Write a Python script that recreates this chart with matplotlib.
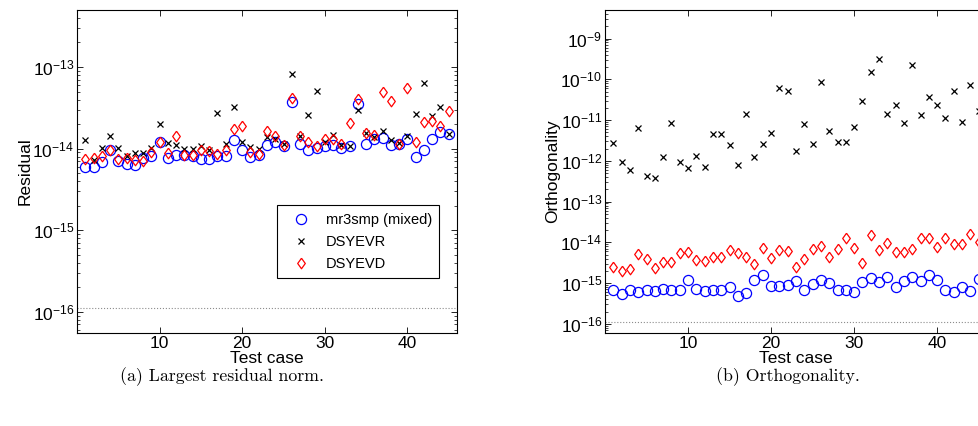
import numpy as np
import matplotlib
matplotlib.use("Agg")
import matplotlib.pyplot as plt
from matplotlib.ticker import LogLocator, FixedLocator, NullFormatter

plt.rcParams['font.family'] = ['Liberation Sans', 'DejaVu Sans']
plt.rcParams['mathtext.default'] = 'regular'

# test cases 1..45
cases = np.arange(1, 46)
eps = 1.11e-16

# (a) largest residual norm
res_mr3 = [5.9e-15, 5.9e-15, 6.8e-15, 9.7e-15, 7.0e-15, 6.5e-15, 6.3e-15, 7.7e-15, 8.1e-15, 1.2e-14,
           7.7e-15, 8.3e-15, 8.3e-15, 8.1e-15, 7.5e-15, 7.5e-15, 8.1e-15, 8.1e-15, 1.26e-14, 9.5e-15,
           7.9e-15, 8.3e-15, 1.1e-14, 1.19e-14, 1.09e-14, 3.7e-14, 1.14e-14, 9.7e-15, 1.02e-14, 1.09e-14,
           1.12e-14, 1.02e-14, 1.07e-14, 3.5e-14, 1.15e-14, 1.31e-14, 1.36e-14, 1.12e-14, 1.14e-14, 1.31e-14,
           7.8e-15, 9.5e-15, 1.31e-14, 1.6e-14, 1.5e-14]
res_evr = [1.29e-14, 7.2e-15, 1.02e-14, 1.44e-14, 1.02e-14, 8.2e-15, 8.9e-15, 8.9e-15, 1.02e-14, 2.0e-14,
           1.17e-14, 1.12e-14, 1.0e-14, 1.0e-14, 1.09e-14, 9.7e-15, 2.77e-14, 1.15e-14, 3.28e-14, 1.2e-14,
           1.04e-14, 1.0e-14, 1.4e-14, 1.31e-14, 1.15e-14, 8.3e-14, 1.44e-14, 2.6e-14, 5.1e-14, 1.19e-14,
           1.48e-14, 1.1e-14, 1.07e-14, 3.0e-14, 1.55e-14, 1.39e-14, 1.63e-14, 1.29e-14, 1.17e-14, 1.44e-14,
           2.67e-14, 6.4e-14, 2.5e-14, 3.2e-14, 1.52e-14]
res_evd = [7.5e-15, 7.6e-15, 8.1e-15, 9.7e-15, 7.5e-15, 7.7e-15, 7.3e-15, 7.1e-15, 9.0e-15, 1.2e-14,
           8.9e-15, 1.41e-14, 8.4e-15, 8.4e-15, 9.5e-15, 9.3e-15, 8.7e-15, 9.5e-15, 1.74e-14, 1.87e-14,
           9.0e-15, 8.7e-15, 1.63e-14, 1.44e-14, 1.12e-14, 4.2e-14, 1.41e-14, 1.19e-14, 1.07e-14, 1.31e-14,
           1.31e-14, 1.14e-14, 2.05e-14, 4.1e-14, 1.55e-14, 1.48e-14, 4.9e-14, 3.8e-14, 1.14e-14, 5.5e-14,
           1.2e-14, 2.1e-14, 2.2e-14, 1.87e-14, 2.9e-14]

# (b) orthogonality
ort_mr3 = [6.9e-16, 5.5e-16, 6.9e-16, 6.1e-16, 6.9e-16, 6.6e-16, 7.1e-16, 6.9e-16, 6.9e-16, 1.2e-15,
           7.1e-16, 6.5e-16, 6.9e-16, 6.9e-16, 7.9e-16, 4.9e-16, 5.7e-16, 1.2e-15, 1.55e-15, 8.6e-16,
           8.6e-16, 8.9e-16, 1.14e-15, 6.9e-16, 9.5e-16, 1.2e-15, 1.0e-15, 6.9e-16, 6.9e-16, 6.0e-16,
           1.04e-15, 1.33e-15, 1.04e-15, 1.45e-15, 8.2e-16, 1.16e-15, 1.45e-15, 1.16e-15, 1.6e-15, 1.2e-15,
           6.9e-16, 6.0e-16, 7.9e-16, 6.6e-16, 1.26e-15]
ort_evr = [2.8e-12, 9.3e-13, 5.9e-13, 6.4e-12, 4.3e-13, 3.9e-13, 1.23e-12, 8.3e-12, 9.3e-13, 6.6e-13,
           1.35e-12, 6.9e-13, 4.5e-12, 4.5e-12, 2.4e-12, 8.0e-13, 1.4e-11, 1.23e-12, 2.6e-12, 4.8e-12,
           6.2e-11, 5.2e-11, 1.7e-12, 8.0e-12, 2.6e-12, 8.5e-11, 5.4e-12, 2.9e-12, 2.9e-12, 6.9e-12,
           2.9e-11, 1.48e-10, 3.2e-10, 1.4e-11, 2.3e-11, 8.3e-12, 2.2e-10, 1.3e-11, 3.7e-11, 2.3e-11,
           1.1e-11, 5.2e-11, 9.0e-12, 7.1e-11, 1.7e-11]
ort_evd = [2.55e-15, 2.0e-15, 2.25e-15, 5.2e-15, 4.0e-15, 2.3e-15, 3.35e-15, 3.3e-15, 5.5e-15, 5.9e-15,
           3.6e-15, 3.5e-15, 4.5e-15, 4.4e-15, 6.6e-15, 5.5e-15, 4.3e-15, 2.9e-15, 7.1e-15, 4.2e-15,
           6.4e-15, 6.1e-15, 2.55e-15, 4.0e-15, 6.9e-15, 8.0e-15, 4.5e-15, 6.9e-15, 1.25e-14, 7.4e-15,
           3.2e-15, 1.5e-14, 6.4e-15, 9.4e-15, 5.9e-15, 5.7e-15, 6.7e-15, 1.25e-14, 1.3e-14, 7.5e-15,
           1.25e-14, 9.1e-15, 9.1e-15, 1.6e-14, 1.0e-14]

# matlab-like diamond (a bit taller than wide)
diamond = [(0, 1), (0.72, 0), (0, -1), (-0.72, 0), (0, 1)]

W, H = 979, 426
fig = plt.figure(figsize=(W / 100, H / 100), dpi=100)
ax1 = fig.add_axes([77 / W, 1 - 333 / H, 380 / W, 323 / H])
ax2 = fig.add_axes([605 / W, 1 - 333 / H, 382 / W, 323 / H])


def draw(ax, mr3, evr, evd, ylim, ylabel, decades):
    ax.plot(cases, mr3, 'o', mfc='none', mec='blue', ms=7.3, mew=0.9, label='mr3smp (mixed)')
    ax.plot(cases, evr, 'x', color='black', ms=4.8, mew=0.9, label='DSYEVR')
    ax.plot(cases, evd, marker=diamond, ls='none', mfc='none', mec='red', ms=7.6, mew=0.9,
            label='DSYEVD')
    ax.axhline(eps, color='0.55', ls=':', lw=0.8)
    ax.set_yscale('log')
    ax.set_xlim(0, 46)
    ax.set_ylim(*ylim)
    ax.xaxis.set_major_locator(FixedLocator([10, 20, 30, 40]))
    ax.yaxis.set_major_locator(FixedLocator([10.0 ** d for d in decades]))
    ax.yaxis.set_minor_locator(LogLocator(base=10, subs=np.arange(2, 10), numticks=30))
    ax.yaxis.set_minor_formatter(NullFormatter())
    ax.tick_params(which='both', direction='in', top=True, right=True, labelsize=12.5, pad=2)
    ax.tick_params(which='major', length=4, width=0.6)
    ax.tick_params(which='minor', length=2, width=0.5)
    for s in ax.spines.values():
        s.set_linewidth(0.8)
    ax.set_xlabel('Test case', fontsize=12.5, labelpad=0)
    ax.set_ylabel(ylabel, fontsize=12.5, labelpad=0)


draw(ax1, res_mr3, res_evr, res_evd, (5.5e-17, 5e-13), 'Residual', [-16, -15, -14, -13])
draw(ax2, ort_mr3, ort_evr, ort_evd, (6e-17, 5e-9), 'Orthogonality', range(-16, -8))

leg = ax1.legend(loc='lower right', bbox_to_anchor=(0.953, 0.170), borderaxespad=0,
                 fancybox=False, framealpha=1, edgecolor='black', fontsize=10.5,
                 handletextpad=0.6, borderpad=0.5, labelspacing=0.55, handlelength=2.2)
leg.get_frame().set_linewidth(0.8)

fig.text(222 / W, 1 - 377 / H, '(a) Largest residual norm.', family='cmr10', fontsize=12.8,
         ha='center', va='center')
fig.text(788 / W, 1 - 377 / H, '(b) Orthogonality.', family='cmr10', fontsize=12.8,
         ha='center', va='center')

fig.savefig('out.png', dpi=100)
